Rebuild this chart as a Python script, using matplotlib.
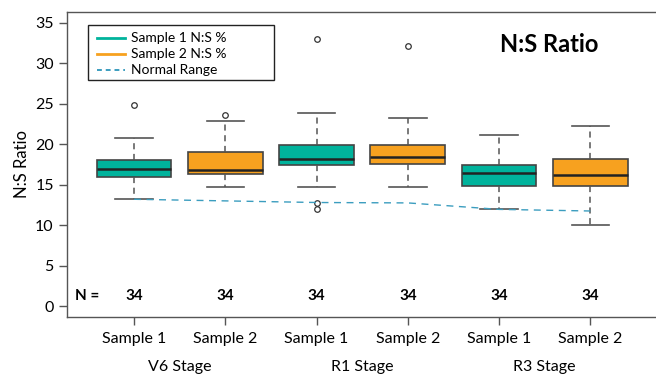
import matplotlib
matplotlib.use("Agg")
import matplotlib.pyplot as plt
from matplotlib.lines import Line2D
from matplotlib.patches import Rectangle

plt.rcParams['font.family'] = ['Lato', 'DejaVu Sans']

# Data
samples = ["Sample 1", "Sample 2", "Sample 1", "Sample 2", "Sample 1", "Sample 2"]
stages = ["V6 Stage", "R1 Stage", "R3 Stage"]
whislo = [13.2, 14.75, 14.7, 14.7, 11.95, 10.0]
q1 = [16.0, 16.3, 17.4, 17.55, 14.85, 14.9]
med = [17.0, 16.8, 18.15, 18.4, 16.4, 16.25]
q3 = [18.1, 19.1, 19.9, 19.9, 17.5, 18.2]
whishi = [20.8, 22.9, 23.9, 23.3, 21.15, 22.2]
fliers = [[24.8], [23.6], [33.0, 12.7, 12.0], [32.1], [], []]
normal_range = [13.2, 13.0, 12.8, 12.75, 11.95, 11.75]
n_counts = [34, 34, 34, 34, 34, 34]
legend_labels = ["Sample 1 N:S %", "Sample 2 N:S %", "Normal Range"]

teal = "#00b39c"
orange = "#f7a11f"
nr_color = "#3b9dbf"
colors = [teal, orange, teal, orange, teal, orange]

W, H = 656, 375
fig = plt.figure(figsize=(W / 100, H / 100), dpi=100)
ax = fig.add_axes([67/W, (H-317)/H, (W-67)/W, (317-12)/H])

positions = list(range(1, 7))
stats = []
for i in range(6):
    stats.append(dict(med=med[i], q1=q1[i], q3=q3[i], whislo=whislo[i],
                      whishi=whishi[i], fliers=fliers[i]))

bp = ax.bxp(stats, positions=positions, widths=0.82, patch_artist=True,
            showfliers=True, capwidths=0.41,
            boxprops=dict(edgecolor="#444444", linewidth=1.2),
            medianprops=dict(color="#222222", linewidth=1.8),
            whiskerprops=dict(color="#555555", linestyle=(0, (4, 3)), linewidth=1.1),
            capprops=dict(color="#555555", linewidth=1.2),
            flierprops=dict(marker="o", markersize=4, markerfacecolor="none",
                            markeredgecolor="#333333", markeredgewidth=0.9))
for patch, c in zip(bp["boxes"], colors):
    patch.set_facecolor(c)

ax.plot(positions, normal_range, color=nr_color, linestyle=(0, (5, 4)), linewidth=1.0, zorder=3)

ax.set_xlim(0.265, 6.72)
ax.set_ylim(-1.36, 36.36)
ax.set_yticks([0, 5, 10, 15, 20, 25, 30, 35])
ax.set_xticks(positions)
ax.set_xticklabels(samples)
ax.tick_params(axis="both", labelsize=11.5, length=6, color="#555555", width=1.0)
ax.tick_params(axis="x", pad=5)
for s in ["left", "bottom", "top"]:
    ax.spines[s].set_color("#555555")
    ax.spines[s].set_linewidth(1.0)
ax.spines["right"].set_visible(False)

ax.set_ylabel("N:S Ratio", fontsize=12)
ax.yaxis.set_label_coords(-0.062, 0.5)

# N counts
ax.text(0.35, 1.25, "N =", fontsize=11, fontweight="bold", ha="left", va="center")
for p, n in zip(positions, n_counts):
    ax.text(p, 1.25, str(n), fontsize=11, fontweight="bold", ha="center", va="center")

# Stage labels
for j, st in enumerate(stages):
    ax.text(2 * j + 1.5, -0.165, st, fontsize=11.5, ha="center", va="center",
            transform=ax.get_xaxis_transform())

# Manual legend (R-style box)
def fx(px):
    return px / W

def fy(py):
    return 1 - py / H

fig.patches.append(Rectangle((fx(88), fy(80)), fx(274) - fx(88), fy(25) - fy(80),
                             transform=fig.transFigure, fill=False,
                             edgecolor="#222222", linewidth=1.0, zorder=5))
leg_styles = [dict(color=teal, lw=2.0, ls="-"),
              dict(color=orange, lw=2.0, ls="-"),
              dict(color=nr_color, lw=1.4, ls=(0, (2.5, 2)))]
for k, (lab, stl) in enumerate(zip(legend_labels, leg_styles)):
    yy = 38 + k * 16
    fig.add_artist(Line2D([fx(97), fx(125)], [fy(yy), fy(yy)], transform=fig.transFigure,
                          color=stl["color"], linewidth=stl["lw"], linestyle=stl["ls"]))
    fig.text(fx(131), fy(yy), lab, fontsize=10, ha="left", va="center")

fig.text(549/W, 1 - 45/H, "N:S Ratio", fontsize=17, fontweight="bold",
         ha="center", va="center")

fig.savefig("out.png", dpi=100)
